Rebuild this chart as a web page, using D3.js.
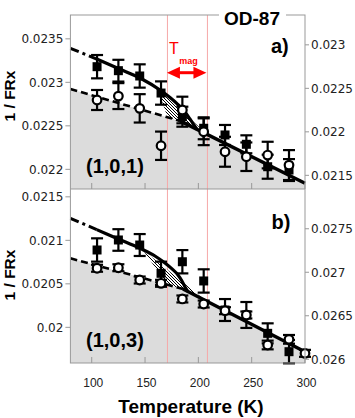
<!DOCTYPE html>
<html>
<head>
<meta charset="utf-8">
<script src="https://cdn.jsdelivr.net/npm/d3@7"></script>
<style>
  html, body { margin: 0; padding: 0; background: #fff; }
  svg { display: block; }
</style>
</head>
<body>
<div id="chart"></div>
<script>
// ---------------- DATA ----------------
const temps = [105, 125, 145, 165, 185, 205, 225, 245, 265, 285];

// Panel a) (1,0,1)  -- filled squares on left axis, open circles on right axis
const aSquares    = [0.02318, 0.023134, 0.023073, 0.022877, 0.022605, 0.022472, 0.022395, 0.022288, 0.02203, 0.021992];
const aSquaresErr = [0.000134, 0.000125, 0.000134, 0.000134, 0.000115, 0.000126, 0.000115, 0.000103, 0.000138, 0.000126];
const aCircles    = [0.022366, 0.022411, 0.02227, 0.02184, 0.022251, 0.022001, 0.021771, 0.021714, 0.021733, 0.021618];
const aCirclesErr = [0.000115, 0.000149, 0.000163, 0.000163, 0.000153, 0.000154, 0.000172, 0.000164, 0.000153, 0.000172];

// Panel b) (1,0,3)
const bSquares    = [0.020889, 0.021004, 0.020946, 0.020621, 0.020754, 0.020533, 0.020199, 0.020142, 0.019931, 0.01972];
const bSquaresErr = [0.000134, 0.000124, 0.000126, 0.000134, 0.000134, 0.000134, 0.000126, 0.000149, 0.000115, 0.000134];
const bCircleTemps = [105, 125, 145, 165, 185, 205, 225, 245, 265, 285, 300];
const bCircles    = [0.027046, 0.027052, 0.026911, 0.026873, 0.026693, 0.026635, 0.026558, 0.026509, 0.026164, 0.026229, 0.026068];
const bCirclesErr = [0.00004, 0.00004, 0.00004, 0.00004, 0.00004, 0.00004, 0.00004, 0.00004, 0.00005, 0.00005, 0.00004];

// Fit curves (left-axis units)
const aUpperT   = [80, 104.7, 124.9, 146.2, 164, 173.4, 180.9, 187.5, 192.1, 195.9, 198.7];
const aUpperV   = [0.023391, 0.023268, 0.023159, 0.023044, 0.022912, 0.022826, 0.022745, 0.022659, 0.022579, 0.02251, 0.02246];
const aLowerT   = [80, 182.8];
const aLowerV   = [0.022923, 0.022557];
const aHighT    = [182.8, 300];
const aHighV    = [0.022557, 0.02184];
const aHatchT   = [162, 208.1, 182.8, 171];
const aHatchV   = [0.02293, 0.022402, 0.022557, 0.022599];

const bUpperT   = [80, 104.7, 124.9, 145.3, 159.3, 168.7, 175.3, 180.9, 184.6, 187.5, 190.3];
const bUpperV   = [0.021253, 0.021123, 0.021016, 0.020908, 0.02082, 0.020739, 0.020671, 0.020602, 0.020533, 0.020464, 0.020411];
const bLowerT   = [80, 185.6];
const bLowerV   = [0.020793, 0.020441];
const bHighT    = [185.6, 300];
const bHighV    = [0.020441, 0.01972];
const bHatchT   = [148, 207, 185.6, 171];
const bHatchV   = [0.02089, 0.020306, 0.020441, 0.02049];

// Axes / ticks
const xTicks = [100, 150, 200, 250, 300];
const aLeftTicks  = [0.0235, 0.023, 0.0225, 0.022];
const aRightTicks = [0.023, 0.0225, 0.022, 0.0215];
const bLeftTicks  = [0.0215, 0.021, 0.0205, 0.02];
const bRightTicks = [0.0275, 0.027, 0.0265, 0.026];
const tMagLines = [171, 208.5];

// Domains
const xDomain = [80, 300];
const aLeftDomain  = [0.021774, 0.023774];
const aRightDomain = [0.021343, 0.023343];
const bLeftDomain  = [0.01959, 0.02159];
const bRightDomain = [0.025957, 0.027957];

// ---------------- LAYOUT ----------------
const W = 355, H = 418;
const X0 = 70.4, X1 = 305;
const A_TOP = 15, A_BOT = 189, B_TOP = 189, B_BOT = 363;

const svg = d3.select("#chart").append("svg").attr("width", W).attr("height", H);

const x = d3.scaleLinear().domain(xDomain).range([X0, X1]);
const yaL = d3.scaleLinear().domain(aLeftDomain).range([A_BOT, A_TOP]);
const yaR = d3.scaleLinear().domain(aRightDomain).range([A_BOT, A_TOP]);
const ybL = d3.scaleLinear().domain(bLeftDomain).range([B_BOT, B_TOP]);
const ybR = d3.scaleLinear().domain(bRightDomain).range([B_BOT, B_TOP]);

const fmt = v => String(+v.toPrecision(4));
const FONT = "'Liberation Sans', Arial, Helvetica, sans-serif";
const TICKFONT = "'DejaVu Sans', sans-serif";

// hatch pattern
const defs = svg.append("defs");
const pat = defs.append("pattern").attr("id", "hatch").attr("patternUnits", "userSpaceOnUse")
  .attr("width", 3).attr("height", 3);
pat.append("rect").attr("width", 3).attr("height", 3).attr("fill", "#fff");
pat.append("path").attr("d", "M-1,2 l2,2 M0,0 l3,3 M2,-1 l2,2")
  .attr("stroke", "#000").attr("stroke-width", 1);

function zip(ts, vs) { return ts.map((t, i) => [t, vs[i]]); }

function drawPanel(cfg) {
  const { yL, yR, top, bot, upperT, upperV, lowerT, lowerV, highT, highV, hatchT, hatchV,
          sq, sqErr, ci, ciErr, ciT, leftTicks, rightTicks } = cfg;
  const g = svg.append("g");

  // gray fill below lower boundary
  const lowerPts = zip(lowerT, lowerV).concat(zip(highT, highV).slice(1));
  const area = d3.area().x(d => x(d[0])).y0(bot).y1(d => yL(d[1]));
  g.append("path").attr("d", area(lowerPts)).attr("fill", "#dcdcdc");

  // Tmag lines
  tMagLines.forEach(t => {
    g.append("line").attr("x1", x(t)).attr("x2", x(t)).attr("y1", top).attr("y2", bot)
      .attr("stroke", "#f6a8a8").attr("stroke-width", 1);
  });

  // hatch
  const hatchPts = zip(hatchT, hatchV);
  g.append("path")
    .attr("d", d3.line().x(d => x(d[0])).y(d => yL(d[1]))(hatchPts) + "Z")
    .attr("fill", "url(#hatch)");

  // lines
  const line = d3.line().x(d => x(d[0])).y(d => yL(d[1]));
  const upper = zip(upperT, upperV);
  g.append("path").attr("d", line(upper.slice(0, 2))).attr("fill", "none")
    .attr("stroke", "#000").attr("stroke-width", 3).attr("stroke-dasharray", "9,4,3,4");
  const curveLine = d3.line().x(d => x(d[0])).y(d => yL(d[1])).curve(d3.curveMonotoneX);
  g.append("path").attr("d", curveLine(upper.slice(1))).attr("fill", "none")
    .attr("stroke", "#000").attr("stroke-width", 3.2);
  g.append("path").attr("d", line(zip(lowerT, lowerV))).attr("fill", "none")
    .attr("stroke", "#000").attr("stroke-width", 2.6).attr("stroke-dasharray", "7,4");
  g.append("path").attr("d", line(zip(highT, highV))).attr("fill", "none")
    .attr("stroke", "#000").attr("stroke-width", 3.4);

  // error bars + markers
  function errbar(px, yv, e, yS) {
    const y1 = yS(yv - e), y2 = yS(yv + e);
    g.append("line").attr("x1", px).attr("x2", px).attr("y1", y1).attr("y2", y2)
      .attr("stroke", "#000").attr("stroke-width", 2.2);
    [y1, y2].forEach(yy => g.append("line").attr("x1", px - 6).attr("x2", px + 6)
      .attr("y1", yy).attr("y2", yy).attr("stroke", "#000").attr("stroke-width", 2.2));
  }
  temps.forEach((t, i) => errbar(x(t), sq[i], sqErr[i], yL));
  ciT.forEach((t, i) => errbar(x(t), ci[i], ciErr[i], yR));
  temps.forEach((t, i) => {
    g.append("rect").attr("x", x(t) - 4.5).attr("y", yL(sq[i]) - 4.5)
      .attr("width", 9).attr("height", 9).attr("fill", "#000");
  });
  ciT.forEach((t, i) => {
    g.append("circle").attr("cx", x(t)).attr("cy", yR(ci[i])).attr("r", 4.3)
      .attr("fill", "#fff").attr("stroke", "#000").attr("stroke-width", 2.2);
  });

  // y ticks
  leftTicks.forEach(v => {
    const yy = yL(v);
    g.append("line").attr("x1", X0 - 5).attr("x2", X0).attr("y1", yy).attr("y2", yy)
      .attr("stroke", "#999").attr("stroke-width", 1);
    g.append("text").attr("x", X0 - 7).attr("y", yy).attr("dy", "0.36em")
      .attr("text-anchor", "end").attr("font-family", TICKFONT).attr("font-size", 12)
      .attr("fill", "#222").text(fmt(v));
  });
  rightTicks.forEach(v => {
    const yy = yR(v);
    g.append("line").attr("x1", X1).attr("x2", X1 + 4).attr("y1", yy).attr("y2", yy)
      .attr("stroke", "#999").attr("stroke-width", 1);
    g.append("text").attr("x", X1 + 6).attr("y", yy).attr("dy", "0.36em")
      .attr("text-anchor", "start").attr("font-family", TICKFONT).attr("font-size", 12)
      .attr("fill", "#222").text(fmt(v));
  });
  // x ticks (inward, on bottom)
  xTicks.forEach(t => {
    g.append("line").attr("x1", x(t)).attr("x2", x(t)).attr("y1", bot - 6).attr("y2", bot)
      .attr("stroke", "#999").attr("stroke-width", 1);
  });
}

drawPanel({ yL: yaL, yR: yaR, top: A_TOP, bot: A_BOT,
  upperT: aUpperT, upperV: aUpperV, lowerT: aLowerT, lowerV: aLowerV, highT: aHighT, highV: aHighV,
  hatchT: aHatchT, hatchV: aHatchV, sq: aSquares, sqErr: aSquaresErr, ci: aCircles, ciErr: aCirclesErr,
  ciT: temps, leftTicks: aLeftTicks, rightTicks: aRightTicks });
drawPanel({ yL: ybL, yR: ybR, top: B_TOP, bot: B_BOT,
  upperT: bUpperT, upperV: bUpperV, lowerT: bLowerT, lowerV: bLowerV, highT: bHighT, highV: bHighV,
  hatchT: bHatchT, hatchV: bHatchV, sq: bSquares, sqErr: bSquaresErr, ci: bCircles, ciErr: bCirclesErr,
  ciT: bCircleTemps, leftTicks: bLeftTicks, rightTicks: bRightTicks });

// frame
const frame = svg.append("g").attr("stroke", "#999").attr("stroke-width", 1).attr("fill", "none");
frame.append("rect").attr("x", X0).attr("y", A_TOP).attr("width", X1 - X0).attr("height", B_BOT - A_TOP);
frame.append("line").attr("x1", X0).attr("x2", X1).attr("y1", A_BOT).attr("y2", A_BOT);

// x tick labels
xTicks.forEach(t => {
  svg.append("text").attr("x", x(t) + 1.5).attr("y", 387).attr("text-anchor", "middle")
    .attr("font-family", FONT).attr("font-size", 12).attr("fill", "#222").text(t);
});

// titles & labels
svg.append("rect").attr("x", 219).attr("y", 9).attr("width", 67).attr("height", 12).attr("fill", "#fff");
svg.append("text").attr("x", 252).attr("y", 25).attr("text-anchor", "middle")
  .attr("font-family", FONT).attr("font-weight", "bold").attr("font-size", 19).text("OD-87");
svg.append("text").attr("x", 271).attr("y", 52.5)
  .attr("font-family", FONT).attr("font-weight", "bold").attr("font-size", 20).text("a)");
svg.append("text").attr("x", 271.5).attr("y", 229)
  .attr("font-family", FONT).attr("font-weight", "bold").attr("font-size", 20).text("b)");
svg.append("text").attr("x", 86).attr("y", 173)
  .attr("font-family", FONT).attr("font-weight", "bold").attr("font-size", 20).text("(1,0,1)");
svg.append("text").attr("x", 86).attr("y", 346.5)
  .attr("font-family", FONT).attr("font-weight", "bold").attr("font-size", 20).text("(1,0,3)");
[96, 275].forEach(cy => {
  svg.append("text").attr("transform", `translate(15,${cy}) rotate(-90)`).attr("text-anchor", "middle")
    .attr("font-family", FONT).attr("font-weight", "bold").attr("font-size", 15.5).text("1 / FRx");
});
svg.append("text").attr("x", 191).attr("y", 413).attr("text-anchor", "middle")
  .attr("font-family", FONT).attr("font-weight", "bold").attr("font-size", 19).text("Temperature (K)");

// T_mag label and arrow
svg.append("text").attr("x", 169).attr("y", 54).attr("fill", "#f00")
  .attr("font-family", FONT).attr("font-size", 16).text("T");
svg.append("text").attr("x", 179.3).attr("y", 63.5).attr("fill", "#f00")
  .attr("font-family", FONT).attr("font-weight", "bold").attr("font-size", 9).text("mag");
const ax1 = x(tMagLines[0]) - 0.5, ax2 = x(tMagLines[1]) - 1, ay = 72.7;
svg.append("line").attr("x1", ax1 + 8).attr("x2", ax2 - 8).attr("y1", ay).attr("y2", ay)
  .attr("stroke", "#f00").attr("stroke-width", 3);
svg.append("path").attr("d", `M${ax1},${ay} L${ax1 + 13},${ay - 6} L${ax1 + 13},${ay + 6} Z`).attr("fill", "#f00");
svg.append("path").attr("d", `M${ax2},${ay} L${ax2 - 13},${ay - 6} L${ax2 - 13},${ay + 6} Z`).attr("fill", "#f00");
</script>
</body>
</html>
